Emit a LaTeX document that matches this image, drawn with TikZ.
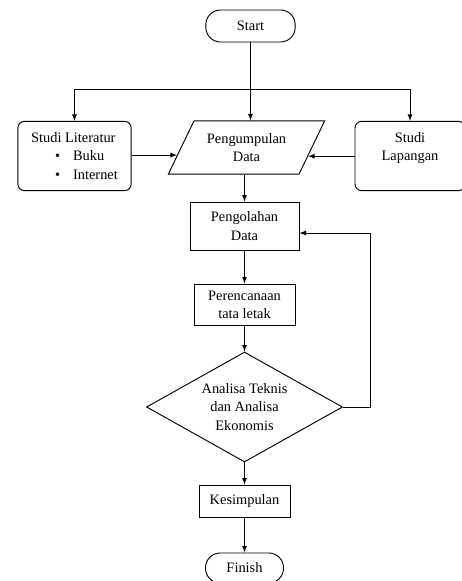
\documentclass[tikz,border=0pt]{standalone}
\usepackage{fontspec}
\setmainfont{Liberation Serif}
\usetikzlibrary{positioning,shapes.geometric,calc}

\begin{document}
\begin{tikzpicture}[x=0.75pt,y=-0.75pt,line width=0.7pt,
      font=\fontsize{10.8pt}{13.7pt}\selectfont,
      term/.style={draw,rounded corners=11pt,align=center,minimum height=24pt},
      side/.style={draw,rounded corners=5pt,minimum height=52pt},
      proc/.style={draw,align=center,inner sep=2pt},
      io/.style={draw,trapezium,trapezium left angle=60,trapezium right angle=120,
        trapezium stretches=true,align=center,minimum width=118pt,minimum height=40pt},
      dec/.style={draw,diamond,aspect=1.8,inner sep=0pt,align=center,
        minimum width=147pt,minimum height=82.5pt},
      arrow/.style={-latex,line width=0.7pt}]
    \useasboundingbox (0,0) rectangle (461,581);
    \node[term,minimum width=67pt] (start) at (250.5,26) {Start};
    \node[side,minimum width=85pt,align=left] (lit) at (74.5,156)
      {Studi Literatur\\\hspace*{18pt}\makebox[13.5pt][l]{\textbullet}Buku\\\hspace*{18pt}\makebox[13.5pt][l]{\textbullet}Internet};
    \node[io] (data) at (246.5,147.5) {Pengumpulan\\Data};
    \node[side,minimum width=82.5pt,align=center] (lap) at (410,156) {Studi\\Lapangan\\\mbox{}};
    \node[proc,minimum width=81.75pt,minimum height=36pt] (olah) at (244.5,226) {Pengolahan\\Data};
    \node[proc,minimum width=75.75pt,minimum height=30.75pt] (rencana) at (244.5,304.5) {Perencanaan\\tata letak};
    \node[dec] (analisa) at (244.5,407) {Analisa Teknis\\dan Analisa\\Ekonomis};
    \node[proc,minimum width=68.25pt,minimum height=24pt] (simpul) at (244.5,501) {Kesimpulan};
    \node[term,minimum width=58.5pt,minimum height=22.5pt] (finish) at (244.5,568) {Finish};
    % start branches to the three inputs
    \coordinate (split) at (start |- 0,89);
    \draw (start) -- (split);
    \draw[arrow] (split) -| (lit);
    \draw[arrow] (split) -| (lap);
    \draw[arrow] (split) -- (split |- data.north);
    \coordinate (dl) at ($(data.bottom left corner)!0.36!(data.top left corner)$);
    \coordinate (dr) at ($(data.bottom right corner)!0.34!(data.top right corner)$);
    \draw[arrow] (lit.east |- dl) -- (dl);
    \draw[arrow] (lap.west |- dr) -- (dr);
    \draw[arrow] (olah |- data.south) -- (olah);
    \draw[arrow] (olah) -- (rencana);
    \draw[arrow] (rencana) -- (analisa);
    % loop back
    \coordinate (back) at (370,233);
    \draw[arrow] (analisa.east) -| (back) -- (olah.east |- back);
    \draw[arrow] (analisa) -- (simpul);
    \draw[arrow] (simpul) -- (finish);
  \end{tikzpicture}
\end{document}
